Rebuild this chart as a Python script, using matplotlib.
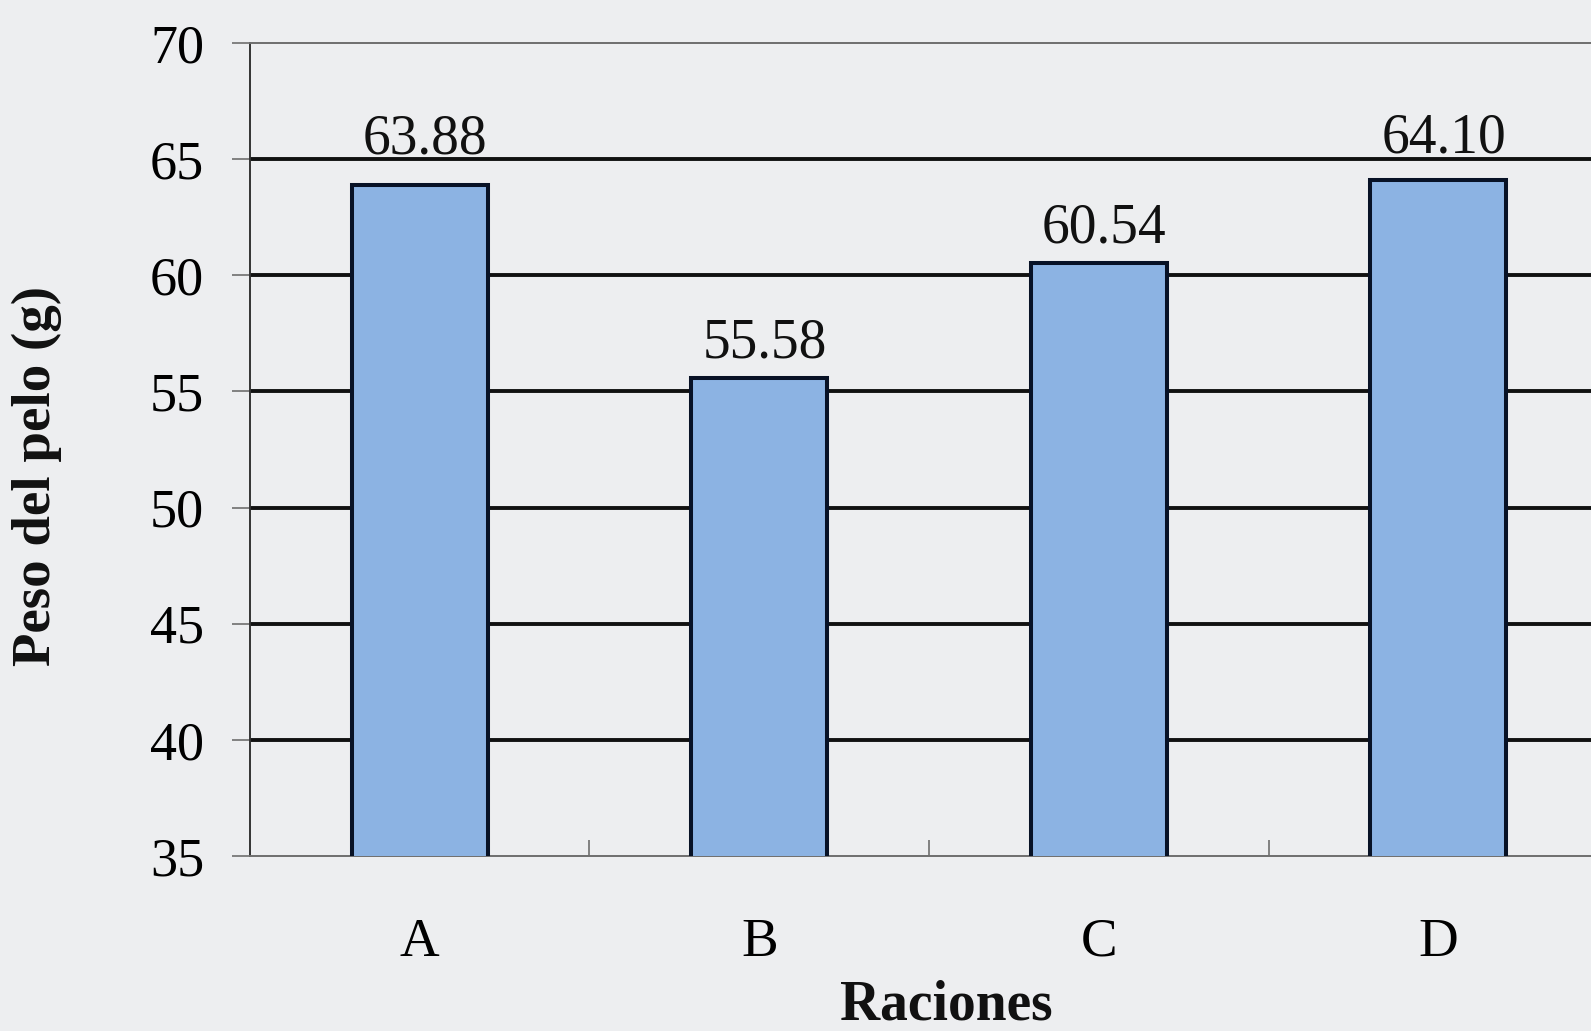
import numpy as np
import matplotlib
matplotlib.use("Agg")
import matplotlib.pyplot as plt
from matplotlib.ticker import FixedLocator

# Data
raciones = ["A", "B", "C", "D"]
peso_pelo = [63.88, 55.58, 60.54, 64.10]
y_ticks = [35, 40, 45, 50, 55, 60, 65, 70]

# Label offsets above each bar (points)
label_dy = [23, 15, 14.5, 19.5]

plt.rcParams["font.family"] = ["Liberation Serif", "DejaVu Serif"]

bg = "#EDEEF0"
fig = plt.figure(figsize=(15.91, 10.31), dpi=100, facecolor=bg)
ax = fig.add_axes([0.1571, 0.1697, 0.8536, 0.7886])
ax.set_facecolor(bg)

x = np.arange(len(raciones))
bars = ax.bar(x, peso_pelo, width=0.4, color="#8CB3E3",
              edgecolor="#081226", linewidth=2.9, zorder=3)

ax.set_xlim(-0.5, len(raciones) - 0.5)
ax.set_ylim(y_ticks[0], y_ticks[-1])
ax.set_yticks(y_ticks)
ax.set_xticks(x)
ax.set_xticklabels(raciones)
ax.xaxis.set_minor_locator(FixedLocator(x[:-1] + 0.5))

# Horizontal grid lines between the frame lines
ax.set_axisbelow(True)
ax.yaxis.grid(True, color="#111111", linewidth=2.8)
glines = ax.get_ygridlines()
glines[0].set_visible(False)
glines[-1].set_visible(False)

for side in ("top", "bottom", "left", "right"):
    ax.spines[side].set_color("#6E6E6E")
    ax.spines[side].set_linewidth(1.4)
ax.spines["left"].set_color("#333333")

ax.tick_params(axis="y", which="major", direction="out", length=13,
               width=1.2, color="#6E6E6E", pad=20, labelsize=39)
ax.tick_params(axis="x", which="major", length=0, pad=44, labelsize=39.5)
ax.tick_params(axis="x", which="minor", direction="in", length=11.5,
               width=1.2, color="#6E6E6E")

for xi, v, dy in zip(x, peso_pelo, label_dy):
    ax.annotate(f"{v:.2f}", xy=(xi, v), xytext=(4, dy),
                textcoords="offset points", ha="center", va="baseline",
                fontsize=40, color="#111111")

fig.text(946 / 1591, 1 - 1019 / 1031, "Raciones", ha="center",
         va="baseline", fontsize=40, fontweight="bold", color="#111111")
fig.text(37 / 1591, 1 - 476 / 1031, "Peso del pelo (g)", rotation=90,
         ha="center", va="center", fontsize=39.5, fontweight="bold",
         color="#111111")

fig.savefig("out.png", dpi=100, facecolor=bg)
